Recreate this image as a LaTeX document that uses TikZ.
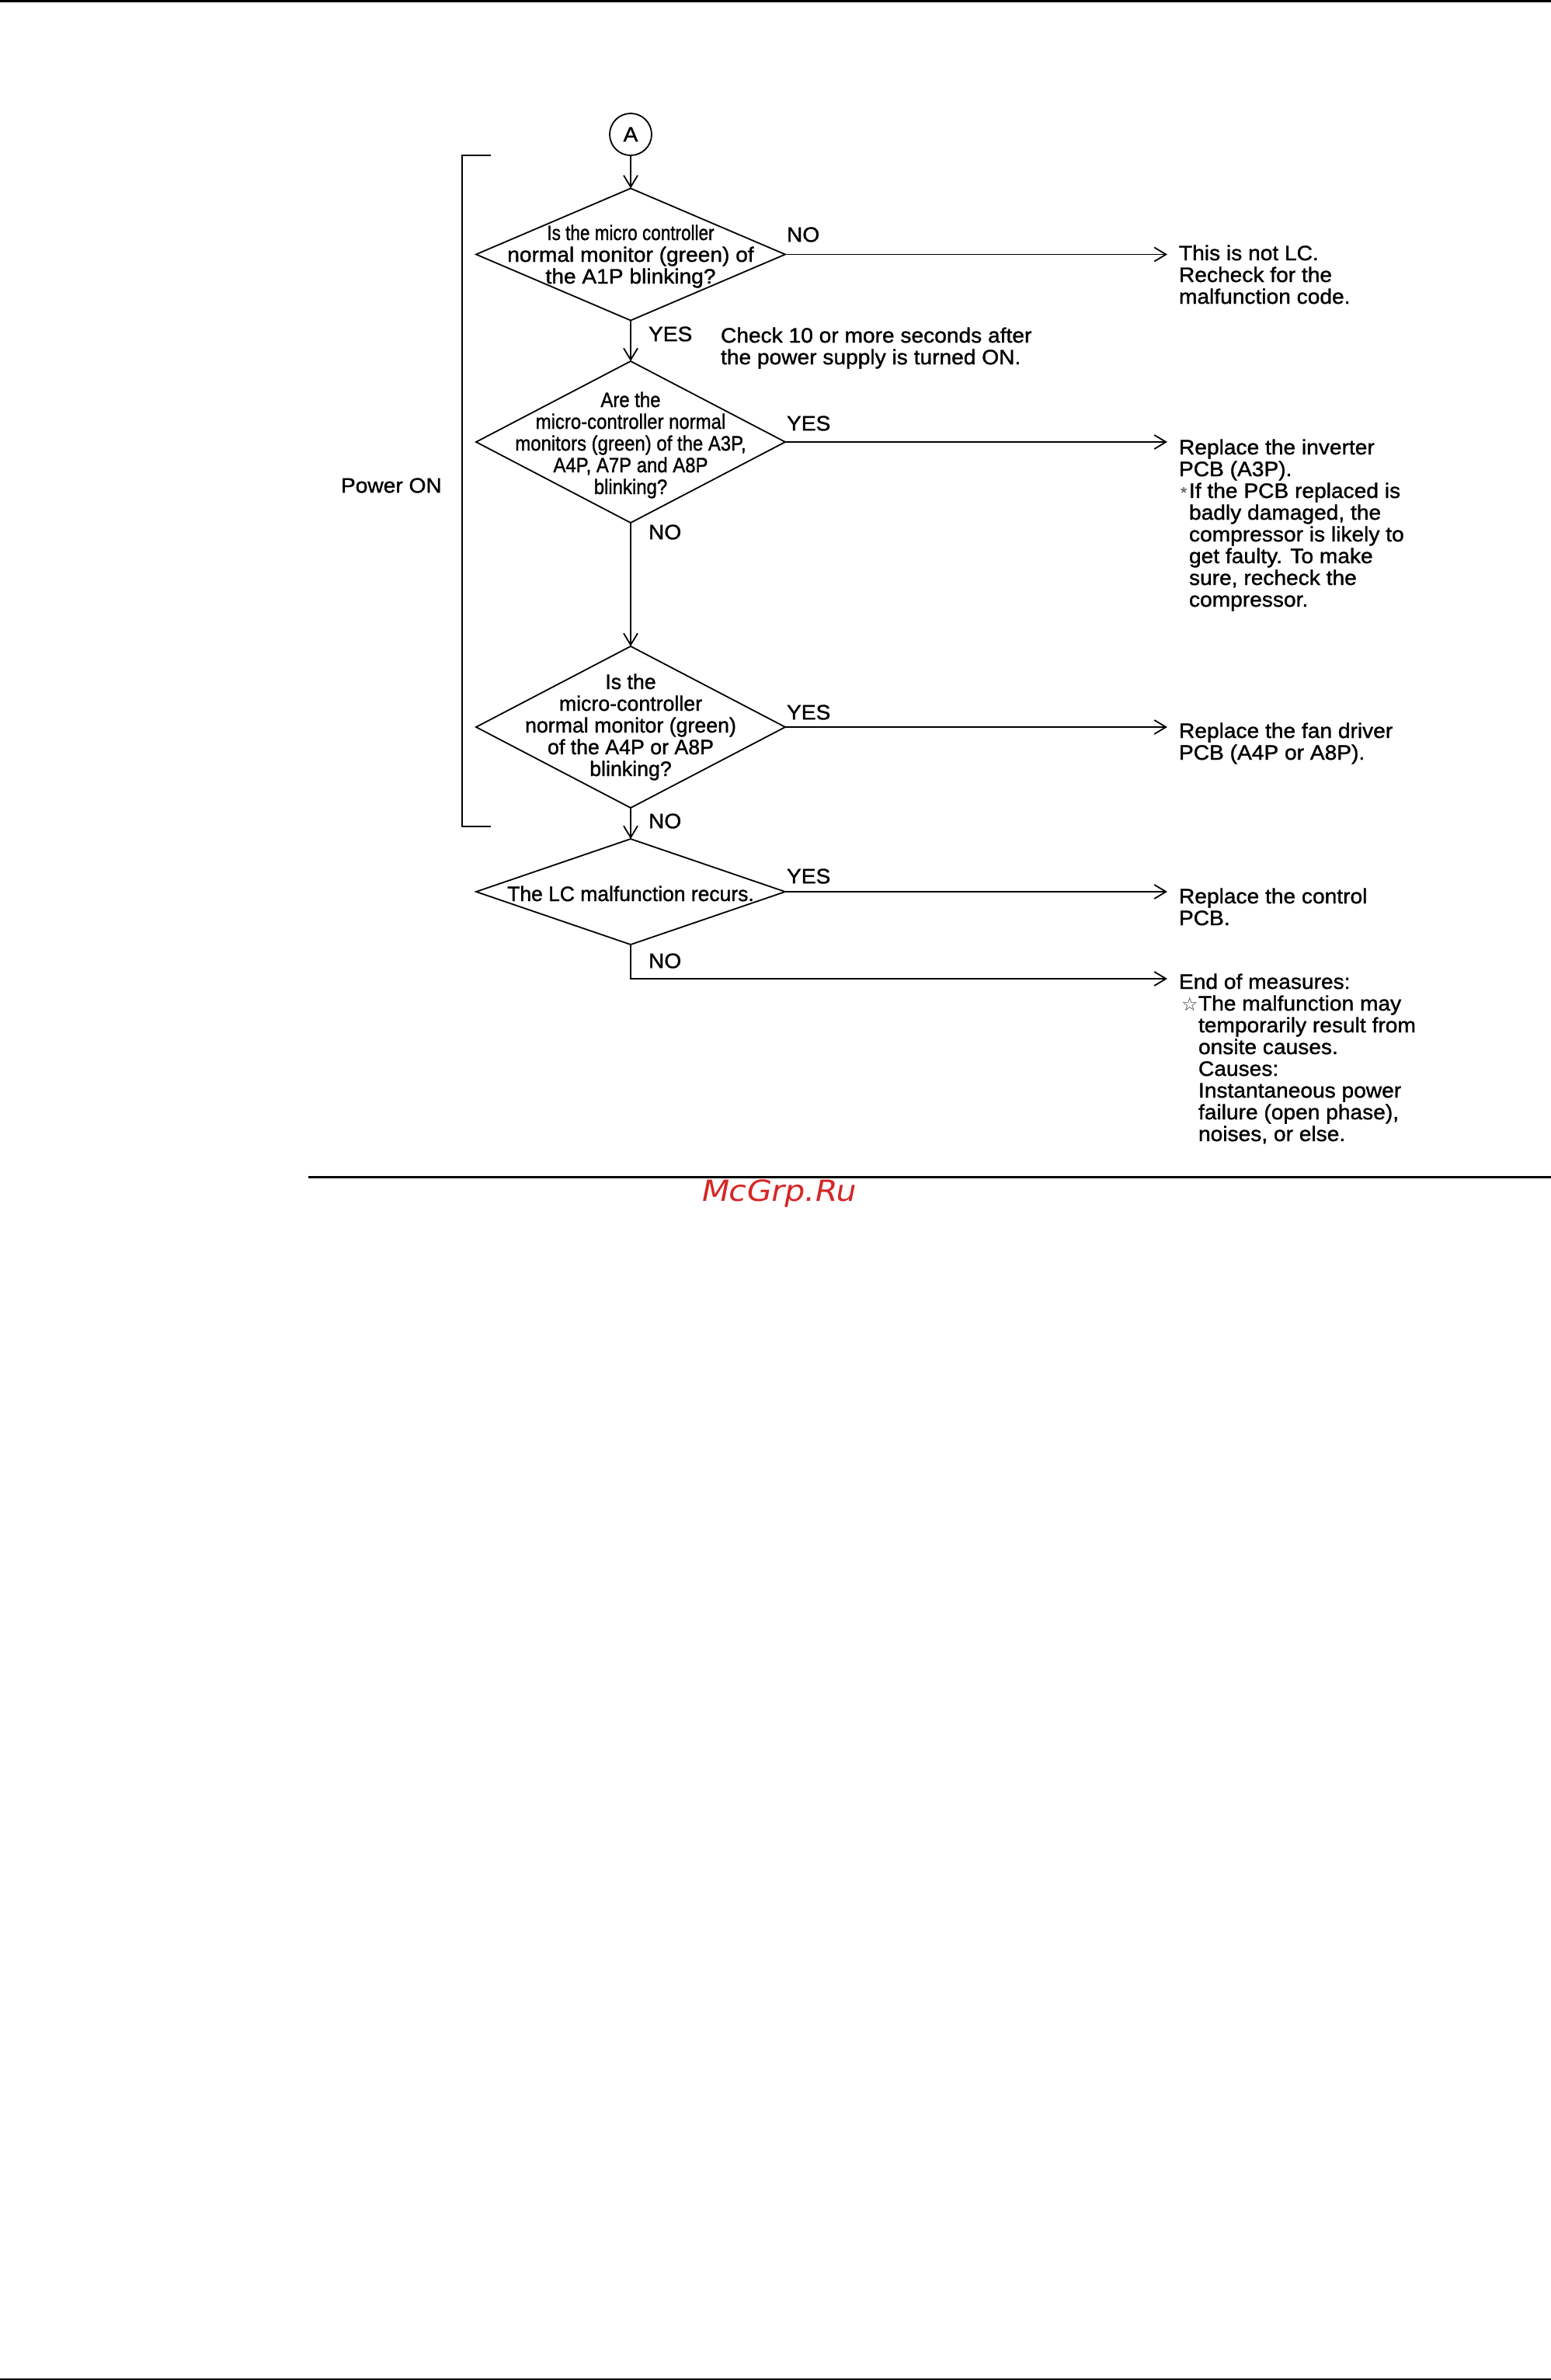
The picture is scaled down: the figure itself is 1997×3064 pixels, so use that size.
\documentclass[tikz,border=0pt]{standalone}
\usepackage{fontspec}
\usepackage{graphicx}
\setmainfont{Liberation Sans}[FakeStretch=1.05,FakeBold=1.3]
\newfontfamily\dejavu{DejaVu Sans}
\newfontfamily\wmfont{DejaVu Sans}[FakeSlant=0.2,FakeStretch=1.1]
\usetikzlibrary{shapes.geometric,arrows.meta}
\definecolor{wmred}{RGB}{214,38,38}
\newcommand\cx[2]{\scalebox{#1}[1]{#2}}
\begin{document}
\begin{tikzpicture}[x=0.5pt,y=-0.5pt,
  every node/.style={inner sep=0pt,outer sep=0pt,font=\fontsize{13.4}{14}\selectfont},
  dia/.style={draw,diamond,line width=0.9pt,minimum width=199pt},
  lbl/.style={anchor=west},
  txt/.style={anchor=base west,align=left},
  qtxt/.style={anchor=base,align=center},
  conn/.style={line width=0.9pt,-{Straight Barb[length=7.5pt,width=9pt]}},
  plain/.style={line width=0.9pt}]
\useasboundingbox (0,0) rectangle (1997,3064);
% page rules
\fill (0,0) rectangle (1997,2.5);
\fill (0,3061.5) rectangle (1997,3064);
\fill (397,1514.3) rectangle (1997,1516.7);
\node[font=\wmfont\fontsize{18.8}{20}\selectfont, text=wmred, anchor=base west] (wm) at (901,1546.7) {McGrp.Ru};
% start connector
\node[draw,circle,line width=0.9pt,minimum size=27pt] (A) at (812,173) {A};
% bracket
\draw[plain] (632,200) -- (595,200) -- (595,1064) -- (632,1064);
\node[lbl] (pwr) at (439,625) {Power ON};
% decisions (base anchor = last line baseline)
\node[dia,minimum height=85pt] (d1) at (812,327.5) {};
\node[qtxt] (q1) at (812,365) {\cx{0.8}{Is the micro controller}\\normal monitor (green) of\\the A1P blinking?};
\node[dia,minimum height=104pt] (d2) at (812,569) {};
\node[qtxt] (q2) at (812,636) {\cx{0.85}{Are the}\\\cx{0.85}{micro-controller normal}\\\cx{0.85}{monitors (green) of the A3P,}\\\cx{0.85}{A4P, A7P and A8P}\\\cx{0.85}{blinking?}};
\node[dia,minimum height=104pt] (d3) at (812,936) {};
\node[qtxt] (q3) at (812,999) {\cx{0.95}{Is the}\\\cx{0.95}{micro-controller}\\\cx{0.95}{normal monitor (green)}\\\cx{0.95}{of the A4P or A8P}\\\cx{0.95}{blinking?}};
\node[dia,minimum height=68pt] (d4) at (812,1148) {};
\node[qtxt] (q4) at (812,1160) {\cx{0.94}{The LC malfunction recurs.}};
% branch labels
\node[lbl] (n1) at (1013,302) {NO};
\node[lbl] (y1) at (835,430) {YES};
\node[lbl] (y2) at (1013,545) {YES};
\node[lbl] (n2) at (835,685) {NO};
\node[lbl] (y3) at (1013,917) {YES};
\node[lbl] (n3) at (835,1057) {NO};
\node[lbl] (y4) at (1013,1128) {YES};
\node[lbl] (n4) at (835,1237) {NO};
\node[txt] (chk) at (928,469) {Check 10 or more seconds after\\the power supply is turned ON.};
% result texts
\node[txt] (r1) at (1518,391) {This is not LC.\\Recheck for the\\malfunction code.};
\node[txt] (r2) at (1518,781) {Replace the inverter\\PCB (A3P).\\\makebox[6.5pt][l]{\hspace{1pt}\textcolor{black!60}{\fontsize{10}{10}\selectfont *}}If the PCB replaced is\\\hspace*{6.5pt}badly damaged, the\\\hspace*{6.5pt}compressor is likely to\\\hspace*{6.5pt}get faulty. To make\\\hspace*{6.5pt}sure, recheck the\\\hspace*{6.5pt}compressor.};
\node[txt] (r3) at (1518,978) {Replace the fan driver\\PCB (A4P or A8P).};
\node[txt] (r4) at (1518,1191) {Replace the control\\PCB.};
\node[txt] (r5) at (1518,1469) {End of measures:\\\makebox[12.5pt][l]{\hspace{1.5pt}\textcolor{black!80}{\dejavu\fontsize{12}{12}\selectfont ☆}}The malfunction may\\\hspace*{12.5pt}temporarily result from\\\hspace*{12.5pt}onsite causes.\\\hspace*{12.5pt}Causes:\\\hspace*{12.5pt}Instantaneous power\\\hspace*{12.5pt}failure (open phase),\\\hspace*{12.5pt}noises, or else.};
% arrow end points
\coordinate (e1) at (1503,327.5);
\coordinate (e2) at (1503,569);
\coordinate (e3) at (1503,936);
\coordinate (e4) at (1503,1148);
\coordinate (e5) at (1503,1260);
% connectors
\draw[conn] (A.south) -- (d1.north);
\draw[conn] (d1.south) -- (d2.north);
\draw[conn] (d2.south) -- (d3.north);
\draw[conn] (d3.south) -- (d4.north);
\draw[conn] (d1.east) -- (d1.east -| e1);
\draw[conn] (d2.east) -- (d2.east -| e2);
\draw[conn] (d3.east) -- (d3.east -| e3);
\draw[conn] (d4.east) -- (d4.east -| e4);
\draw[conn] (d4.south) |- (e5);
\end{tikzpicture}
\end{document}
